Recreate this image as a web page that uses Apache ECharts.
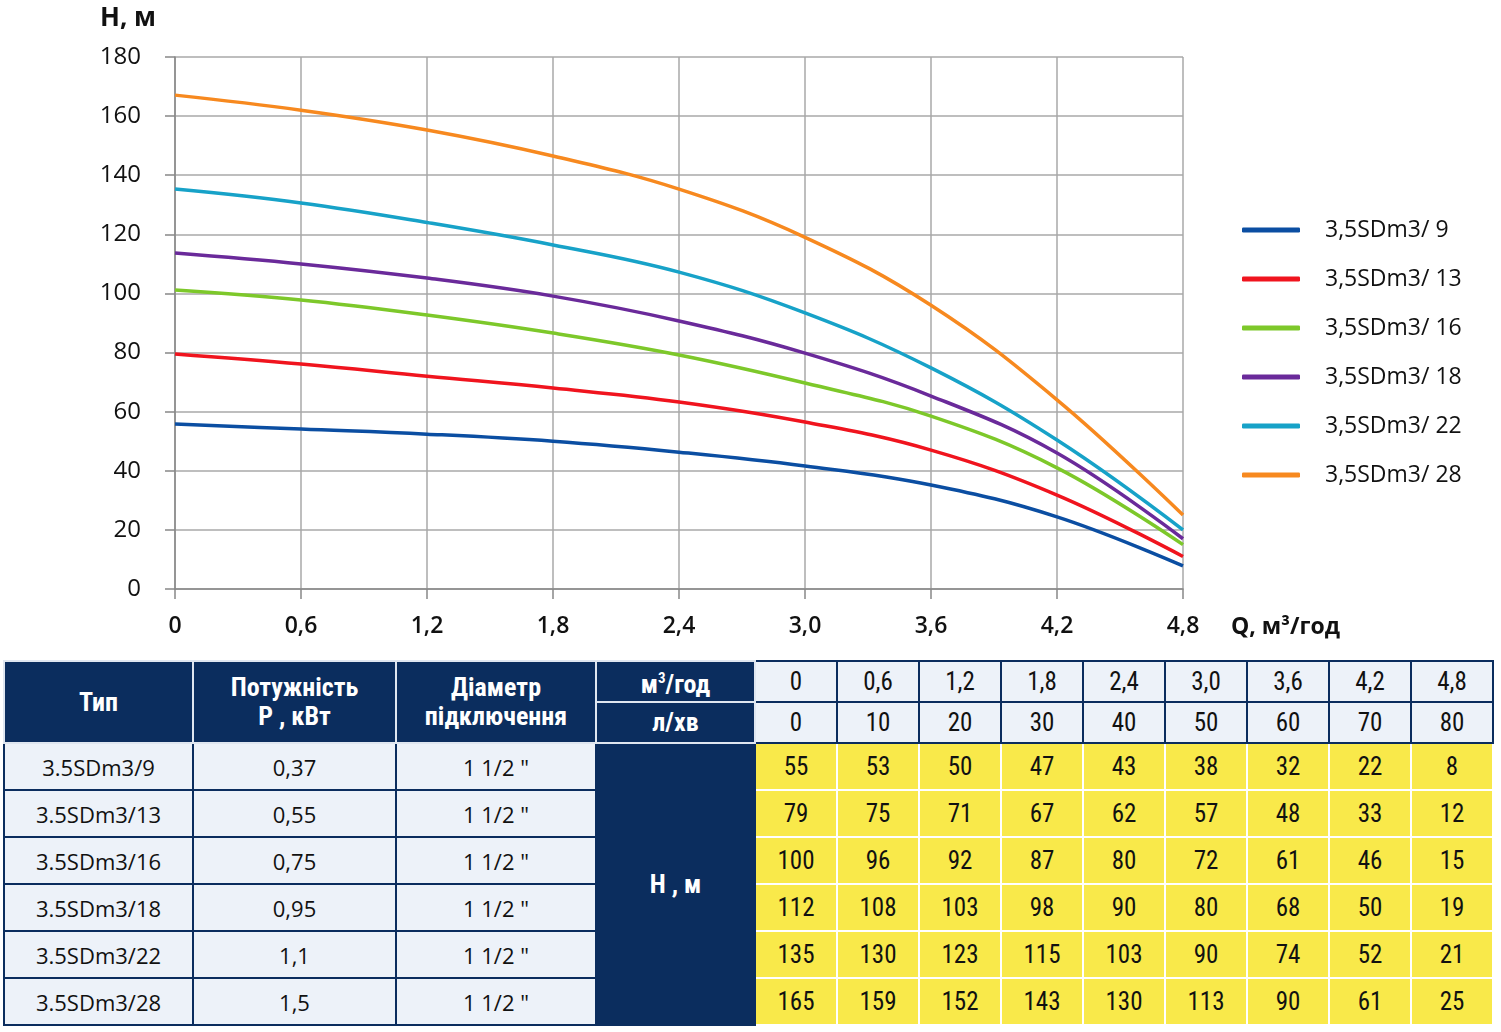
<!DOCTYPE html>
<html>
<head>
<meta charset="utf-8">
<script src="https://cdn.jsdelivr.net/npm/echarts@6/dist/echarts.min.js"></script>
<style>
    body { margin: 0; background: #fff; }
    #chart { position: absolute; left: 0; top: 0; width: 1501px; height: 655px; }
    #tbl {
        position: absolute; left: 3px; top: 660px;
        border-collapse: collapse; table-layout: fixed;
        font-family: "Roboto Condensed", "Liberation Sans Narrow", Roboto, sans-serif;
        font-size: 25px; color: #111;
    }
    #tbl td { border: 2px solid #0b2d5e; text-align: center; padding: 0; }
    #tbl td.hd { background: #0b2d5e; color: #fff; font-weight: bold; font-size: 26px; line-height: 29px; border-color: #dfe6f0; }
    #tbl td.hn { background: #0b2d5e; color: #fff; font-weight: bold; font-size: 26px; border-color: #0b2d5e; }
    #tbl td.lt { background: #edf2f9; }
    #tbl td.nm { font-family: "Open Sans", "Noto Sans", sans-serif; font-size: 22px; }
    #tbl td.yl { background: #f9e94a; border-color: #fff; }
    #tbl tr.h1 td, #tbl tr.h2 td { height: 39px; }
    #tbl tr.dr td { height: 45px; }
</style>
</head>
<body>
<div id="chart"></div>
<table id="tbl"></table>
<script>
'use strict';

// chart curves
var flowQ = [0, 0.6, 1.2, 1.8, 2.4, 3.0, 3.6, 4.2, 4.8];
var head9 = [55.8, 54.1, 52.4, 50, 46.3, 41.6, 35.2, 24.4, 7.8];
var head13 = [79.5, 76.1, 72, 68, 63.3, 56.5, 47, 31.8, 11];
var head16 = [101.2, 97.8, 92.7, 86.6, 79.2, 69.7, 58.5, 41, 15];
var head18 = [113.7, 110, 105.2, 99.1, 90.7, 79.8, 65.3, 46, 17];
var head22 = [135.3, 130.6, 124, 116.4, 107.2, 93.4, 74.8, 50.4, 20];
var head28 = [167.1, 162, 155.3, 146.5, 135.3, 119, 96, 64, 25];
var seriesNames = ['3,5SDm3/ 9', '3,5SDm3/ 13', '3,5SDm3/ 16', '3,5SDm3/ 18', '3,5SDm3/ 22', '3,5SDm3/ 28'];
var seriesColors = ['#0b4ea2', '#f0141e', '#7dc82a', '#6a2a9a', '#17a2c8', '#f7891f'];

// table
var typeNames = ['3.5SDm3/9', '3.5SDm3/13', '3.5SDm3/16', '3.5SDm3/18', '3.5SDm3/22', '3.5SDm3/28'];
var powerKw = ['0,37', '0,55', '0,75', '0,95', '1,1', '1,5'];
var diameter = ['1 1/2 "', '1 1/2 "', '1 1/2 "', '1 1/2 "', '1 1/2 "', '1 1/2 "'];
var flowM3 = ['0', '0,6', '1,2', '1,8', '2,4', '3,0', '3,6', '4,2', '4,8'];
var flowLmin = ['0', '10', '20', '30', '40', '50', '60', '70', '80'];
var tableHeads = [
    [55, 53, 50, 47, 43, 38, 32, 22, 8],
    [79, 75, 71, 67, 62, 57, 48, 33, 12],
    [100, 96, 92, 87, 80, 72, 61, 46, 15],
    [112, 108, 103, 98, 90, 80, 68, 50, 19],
    [135, 130, 123, 115, 103, 90, 74, 52, 21],
    [165, 159, 152, 143, 130, 113, 90, 61, 25]
];

var allHeads = [head9, head13, head16, head18, head22, head28];

function pairs(ys) {
    return ys.map(function (y, i) { return [flowQ[i], y]; });
}

var chart = echarts.init(document.getElementById('chart'));
var labelFont = 'Open Sans, Noto Sans, sans-serif';

chart.setOption({
    animation: false,
    grid: { left: 175, top: 57, right: 318, bottom: 66 },
    legend: {
        orient: 'vertical',
        left: 1237,
        top: 212,
        icon: 'roundRect',
        itemWidth: 58,
        itemHeight: 5,
        itemGap: 23,
        textStyle: { fontFamily: labelFont, fontSize: 23, color: '#111', lineHeight: 26, padding: [0, 0, 0, 20] },
        data: seriesNames
    },
    xAxis: {
        type: 'value', min: 0, max: 4.8, interval: 0.6,
        axisLine: { lineStyle: { color: '#888', width: 1.5 } },
        axisTick: { show: true, length: 10, lineStyle: { color: '#888', width: 1.5 } },
        splitLine: { lineStyle: { color: '#a8a8a8', width: 1.5 } },
        axisLabel: {
            margin: 26, fontFamily: labelFont, fontSize: 23, fontWeight: 600, color: '#111',
            formatter: function (v) { return v === 0 ? '0' : v.toFixed(1).replace('.', ','); }
        }
    },
    yAxis: {
        type: 'value', min: 0, max: 180, interval: 20,
        axisLine: { show: true, lineStyle: { color: '#888', width: 1.5 } },
        axisTick: { show: true, length: 10, lineStyle: { color: '#888', width: 1.5 } },
        splitLine: { lineStyle: { color: '#a8a8a8', width: 1.5 } },
        axisLabel: { margin: 34, fontFamily: labelFont, fontSize: 24, color: '#111' }
    },
    graphic: [
        { type: 'text', left: 100, top: 6, style: { text: 'Н, м', fontFamily: labelFont, fontSize: 26, fontWeight: 'bold', fill: '#111' } },
        { type: 'text', left: 1231, top: 616, style: { text: 'Q, м³/год', fontFamily: labelFont, fontSize: 23, fontWeight: 'bold', fill: '#111' } }
    ],
    series: allHeads.map(function (ys, i) {
        return {
            type: 'line', name: seriesNames[i], data: pairs(ys), smooth: 0.4,
            showSymbol: false, color: seriesColors[i],
            lineStyle: { width: 3.5, color: seriesColors[i] }
        };
    })
});

// build the data table under the chart
var tbl = document.getElementById('tbl');
var colW = [189, 203, 200, 159, 82, 82, 82, 82, 82, 82, 82, 82, 82];
var html = '<colgroup>' + colW.map(function (w) { return '<col style="width:' + w + 'px">'; }).join('') + '</colgroup>';

html += '<tr class="h1"><td class="hd" rowspan="2">Тип</td><td class="hd" rowspan="2">Потужність<br>P , кВт</td>' +
    '<td class="hd" rowspan="2">Діаметр<br>підключення</td><td class="hd">м<sup style="font-size:15px">3</sup>/год</td>' +
    flowM3.map(function (v) { return '<td class="lt">' + v + '</td>'; }).join('') + '</tr>';
html += '<tr class="h2"><td class="hd">л/хв</td>' +
    flowLmin.map(function (v) { return '<td class="lt">' + v + '</td>'; }).join('') + '</tr>';

typeNames.forEach(function (name, r) {
    html += '<tr class="dr"><td class="lt nm">' + name + '</td><td class="lt nm">' + powerKw[r] + '</td><td class="lt nm">' + diameter[r] + '</td>';
    if (r === 0) {
        html += '<td class="hn" rowspan="6">Н , м</td>';
    }
    html += tableHeads[r].map(function (v) { return '<td class="yl">' + v + '</td>'; }).join('') + '</tr>';
});
tbl.innerHTML = html;
</script>
</body>
</html>
